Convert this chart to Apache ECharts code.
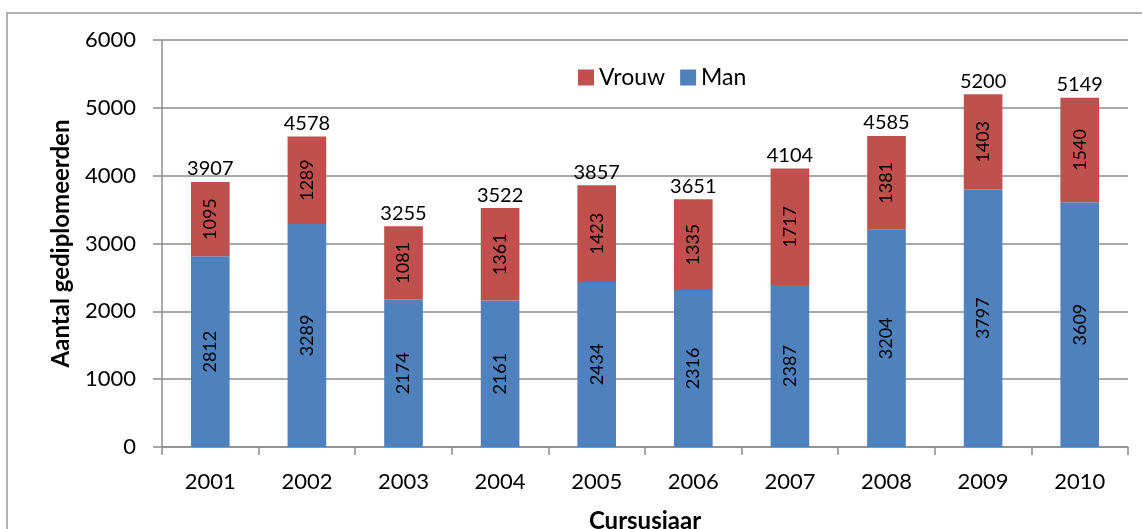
<!DOCTYPE html>
<html>
<head>
<meta charset="utf-8">
<script src="https://cdn.jsdelivr.net/npm/echarts@6/dist/echarts.min.js"></script>
<style>
  html, body { margin: 0; padding: 0; background: #fff; }
  #chart { width: 1142px; height: 529px; }
</style>
</head>
<body>
<div id="chart"></div>
<script>
// Graduates per academic year, split by gender
const years = ['2001', '2002', '2003', '2004', '2005', '2006', '2007', '2008', '2009', '2010'];
const man = [2812, 3289, 2174, 2161, 2434, 2316, 2387, 3204, 3797, 3609];
const vrouw = [1095, 1289, 1081, 1361, 1423, 1335, 1717, 1381, 1403, 1540];
const yTicks = [0, 1000, 2000, 3000, 4000, 5000, 6000];

const totals = man.map((m, i) => m + vrouw[i]);

const FONT = 'Lato, "Open Sans", sans-serif';
const GRID_COLOR = '#8c8c8c';

const chart = echarts.init(document.getElementById('chart'), null, { renderer: 'canvas' });

const insideLabel = {
  show: true,
  position: 'inside',
  rotate: 90,
  color: '#000',
  fontFamily: FONT,
  fontSize: 18
};

chart.setOption({
  animation: false,
  backgroundColor: '#fff',
  graphic: [{
    type: 'rect',
    shape: { x: 7, y: 13, width: 1200, height: 600 },
    style: { fill: 'none', stroke: '#9a9a9a', lineWidth: 1.5 },
    silent: true,
    z: -1
  }],
  grid: { left: 162, right: 14, top: 40, bottom: 82, containLabel: false, outerBoundsMode: 'none' },
  legend: {
    data: ['Vrouw', 'Man'],
    left: 573,
    top: 61,
    itemWidth: 16,
    itemHeight: 16,
    itemGap: 15,
    icon: 'rect',
    textStyle: { fontFamily: FONT, fontSize: 23, color: '#000' }
  },
  xAxis: {
    type: 'category',
    data: years,
    name: 'Cursusjaar',
    nameLocation: 'middle',
    nameGap: 62,
    nameTextStyle: { fontFamily: FONT, fontSize: 24, fontWeight: 'bold', color: '#000' },
    axisLine: { lineStyle: { color: GRID_COLOR, width: 1.5 } },
    axisTick: { show: true, length: 8, lineStyle: { color: GRID_COLOR, width: 1.5 } },
    axisLabel: { fontFamily: FONT, fontSize: 22, color: '#000', margin: 24 }
  },
  yAxis: {
    type: 'value',
    min: yTicks[0],
    max: yTicks[yTicks.length - 1],
    interval: yTicks[1] - yTicks[0],
    name: 'Aantal gediplomeerden',
    nameLocation: 'middle',
    nameGap: 89,
    nameTextStyle: { fontFamily: FONT, fontSize: 24, fontWeight: 'bold', color: '#000' },
    axisLine: { show: true, lineStyle: { color: GRID_COLOR, width: 1.5 } },
    axisTick: { show: true, length: 9, lineStyle: { color: GRID_COLOR, width: 1.5 } },
    splitLine: { lineStyle: { color: GRID_COLOR, width: 1.5 } },
    axisLabel: { fontFamily: FONT, fontSize: 22, color: '#000', margin: 26, formatter: v => String(v) }
  },
  series: [
    {
      name: 'Man',
      type: 'bar',
      stack: 'total',
      data: man,
      barWidth: '40%',
      itemStyle: { color: '#4F81BD' },
      label: insideLabel
    },
    {
      name: 'Vrouw',
      type: 'bar',
      stack: 'total',
      data: vrouw,
      barWidth: '40%',
      itemStyle: { color: '#C0504D' },
      label: insideLabel
    },
    {
      // transparent overlay carrying the total above each stack
      name: 'Totaal',
      type: 'bar',
      data: totals,
      barWidth: '40%',
      barGap: '-100%',
      itemStyle: { color: 'rgba(0,0,0,0)' },
      label: {
        show: true,
        position: 'top',
        distance: 3,
        color: '#000',
        fontFamily: FONT,
        fontSize: 20
      },
      z: 1,
      silent: true
    }
  ]
});
</script>
</body>
</html>
